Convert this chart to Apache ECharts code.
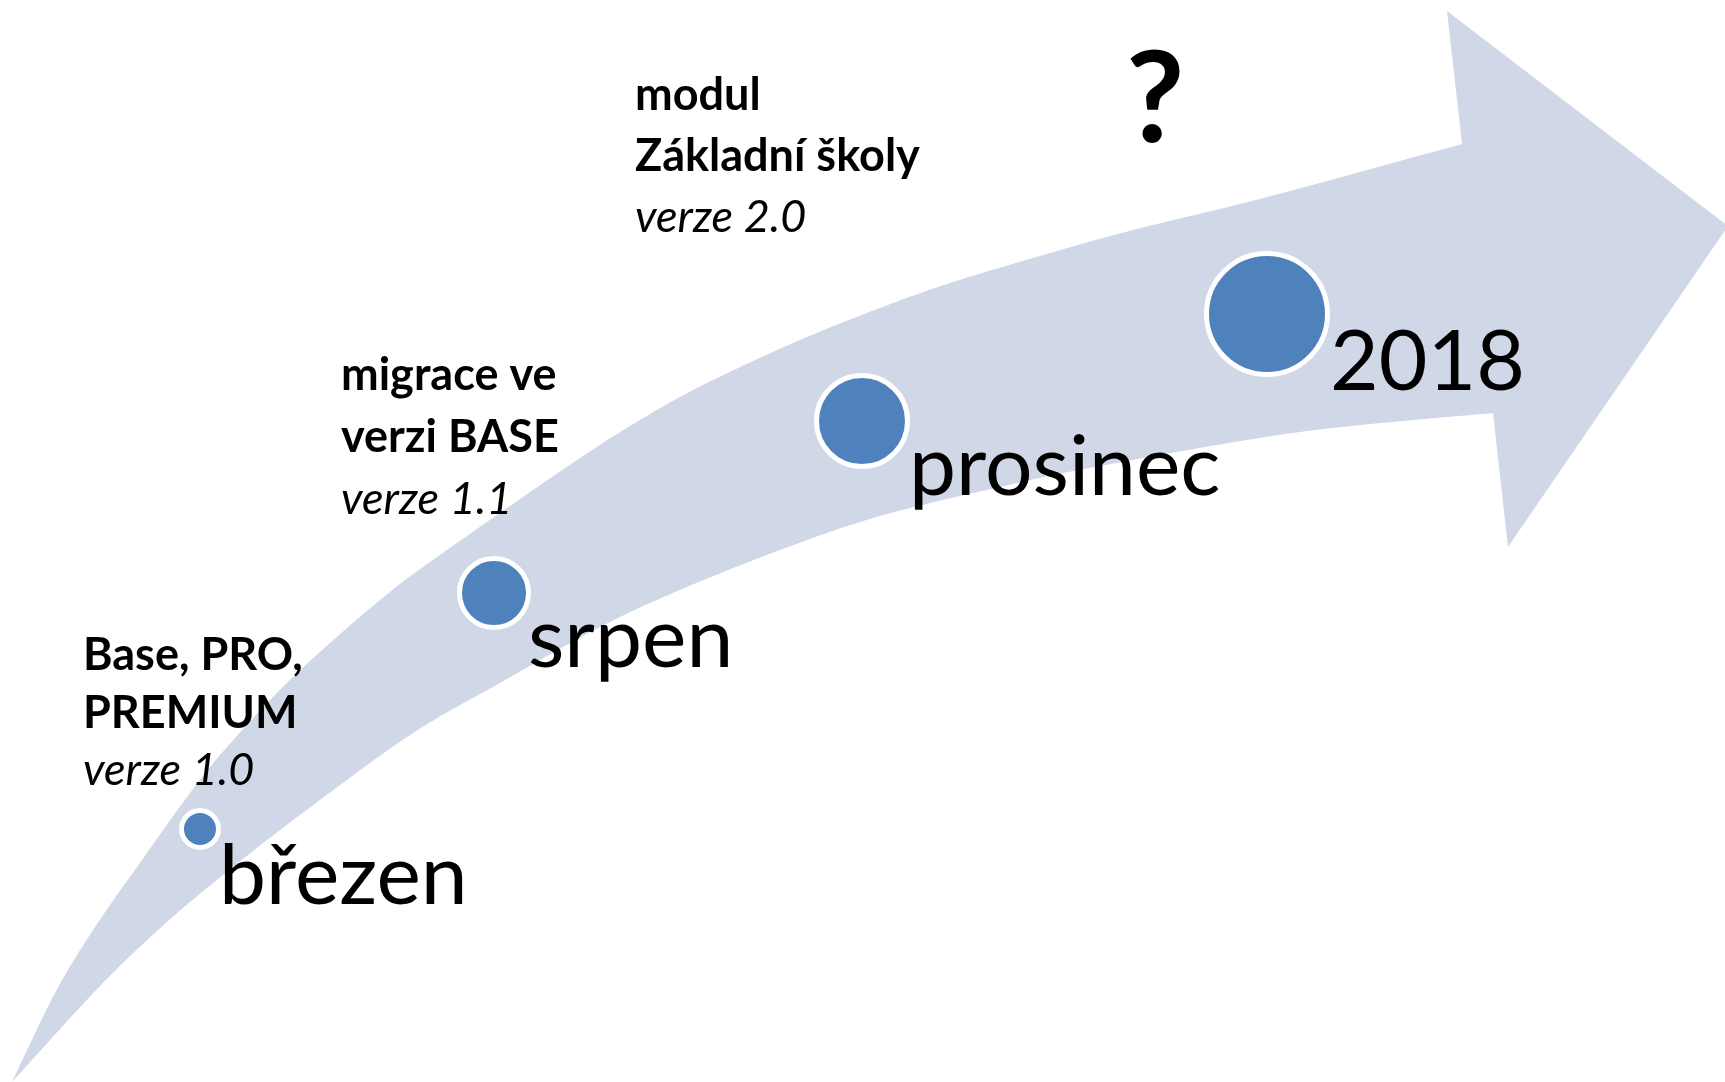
<!DOCTYPE html>
<html lang="cs">
<head>
    <meta charset="UTF-8">
    <title>Plán verzí</title>
    <script type="text/javascript" src="https://cdn.jsdelivr.net/npm/echarts@6.0.0/dist/echarts.min.js"></script>
    <style>
        html, body { margin: 0; padding: 0; background: #ffffff; }
        #chart { width: 1725px; height: 1082px; }
    </style>
</head>
<body>

<div id="chart"></div>

<script type="text/javascript">
    // milníky na šipce
    var milestoneNames = ['březen', 'srpen', 'prosinec', '2018'];
    var milestoneX = [200, 494, 862, 1267];
    var milestoneY = [829, 593, 421, 314];
    var milestoneDiameter = [37, 69, 91, 121];
    var labelX = [219, 528, 909, 1330];
    var labelBaseline = [904, 667, 495, 390];

    // popisky verzí
    var noteTitle = [['Base, PRO,', 'PREMIUM'], ['migrace ve', 'verzi BASE'], ['modul', 'Základní školy']];
    var noteVersion = ['verze 1.0', 'verze 1.1', 'verze 2.0'];
    var noteX = [83, 341, 635];
    var noteBaseline = [670, 390, 110];
    var noteLeading = [57.5, 62, 61];

    // obrys šipky (horní a dolní hrana těla, hrot)
    var upperX = [12, 55, 95, 142, 187, 227, 293, 380, 447, 580, 650, 713, 800, 880, 950, 1050, 1133, 1267, 1462];
    var upperY = [1082, 993, 927, 860, 797, 747, 677, 600, 550, 458, 414, 380, 340, 308, 283, 253, 230, 197, 144];
    var lowerX = [12, 100, 167, 233, 300, 410, 500, 600, 680, 780, 880, 1000, 1100, 1300, 1493];
    var lowerY = [1082, 986, 922, 867, 815, 735, 683, 627, 590, 550, 516, 487, 466, 432, 413];
    var headX = [1462, 1447, 1728, 1508, 1493];
    var headY = [144, 11, 226, 547, 413];

    var W = 1725, H = 1082;
    var MID = 0.318;          // posun středu textu od účaří (Lato)
    var bigFont = 84, noteFont = 45, verFont = 45;

    function smoothEdge(pts) {
        // catmull-rom -> body pro polygon
        var out = [];
        for (var i = 0; i < pts.length - 1; i++) {
            var p0 = pts[i - 1] || pts[i], p1 = pts[i], p2 = pts[i + 1], p3 = pts[i + 2] || pts[i + 1];
            for (var k = 0; k < 16; k++) {
                var t = k / 16, t2 = t * t, t3 = t2 * t;
                var pt = [0, 1].map(function (d) {
                    return 0.5 * ((2 * p1[d]) + (-p0[d] + p2[d]) * t +
                        (2 * p0[d] - 5 * p1[d] + 4 * p2[d] - p3[d]) * t2 +
                        (-p0[d] + 3 * p1[d] - 3 * p2[d] + p3[d]) * t3);
                });
                out.push(pt);
            }
        }
        out.push(pts[pts.length - 1]);
        return out;
    }

    var dom = document.getElementById('chart');
    var myChart = echarts.init(dom, null, {renderer: 'canvas'});

    var arrowSeries = {
        type: 'custom',
        silent: true,
        z: 1,
        data: [[0, 0]],
        renderItem: function (params, api) {
            var up = upperX.map(function (x, i) { return api.coord([x, upperY[i]]); });
            var low = lowerX.map(function (x, i) { return api.coord([x, lowerY[i]]); });
            var head = headX.map(function (x, i) { return api.coord([x, headY[i]]); });
            var pts = smoothEdge(up);
            pts = pts.concat(head.slice(1, 4));
            pts = pts.concat(smoothEdge(low).reverse());
            return {
                type: 'polygon',
                shape: {points: pts},
                style: {fill: '#D0D8E8'}
            };
        }
    };

    var circleSeries = {
        type: 'scatter',
        silent: true,
        z: 2,
        symbol: 'circle',
        data: milestoneX.map(function (x, i) { return [x, milestoneY[i], milestoneDiameter[i]]; }),
        symbolSize: function (v) { return v[2]; },
        itemStyle: {color: '#4F81BD', borderColor: '#ffffff', borderWidth: 5, opacity: 1}
    };

    var textItem = {color: 'rgba(0,0,0,0)', opacity: 1};

    var labelSeries = {
        type: 'scatter',
        silent: true,
        z: 3,
        symbolSize: 1,
        itemStyle: textItem,
        data: milestoneNames.map(function (n, i) {
            return {name: n, value: [labelX[i], labelBaseline[i] - MID * bigFont]};
        }),
        label: {
            show: true,
            position: 'inside',
            align: 'left',
            verticalAlign: 'middle',
            formatter: '{b}',
            color: '#000000',
            opacity: 1,
            fontFamily: 'Lato',
            fontSize: bigFont,
            lineHeight: bigFont
        }
    };

    var noteSeries = {
        type: 'scatter',
        silent: true,
        z: 3,
        symbolSize: 1,
        itemStyle: textItem,
        data: noteX.map(function (x, i) {
            var L = noteLeading[i];
            var txt = noteTitle[i].map(function (s) { return '{b|' + s + '}'; }).join('\n') +
                '\n{i|' + noteVersion[i] + '}';
            return {
                value: [x, noteBaseline[i] - MID * noteFont - L / 2],
                label: {
                    formatter: txt,
                    rich: {
                        b: {fontWeight: 'bold', fontSize: noteFont, lineHeight: L, fontFamily: 'Lato', color: '#000'},
                        i: {fontStyle: 'italic', fontSize: verFont, lineHeight: L, fontFamily: 'Lato', color: '#000'}
                    }
                }
            };
        }),
        label: {
            show: true,
            position: 'inside',
            align: 'left',
            verticalAlign: 'top',
            opacity: 1
        }
    };

    var questionSeries = {
        type: 'scatter',
        silent: true,
        z: 3,
        symbolSize: 1,
        itemStyle: textItem,
        data: [[1126, 141 - MID * 127]],
        label: {
            show: true,
            position: 'inside',
            align: 'left',
            verticalAlign: 'middle',
            formatter: '?',
            color: '#000',
            opacity: 1,
            fontFamily: 'Lato',
            fontWeight: 'bold',
            fontSize: 127,
            lineHeight: 127
        }
    };

    var option = {
        animation: false,
        backgroundColor: '#ffffff',
        grid: {left: 0, right: 0, top: 0, bottom: 0},
        xAxis: {type: 'value', min: 0, max: W, show: false},
        yAxis: {type: 'value', min: 0, max: H, inverse: true, show: false},
        series: [arrowSeries, circleSeries, labelSeries, noteSeries, questionSeries]
    };

    if (option && typeof option === "object") {
        myChart.setOption(option, true);
    }
</script>

</body>
</html>
